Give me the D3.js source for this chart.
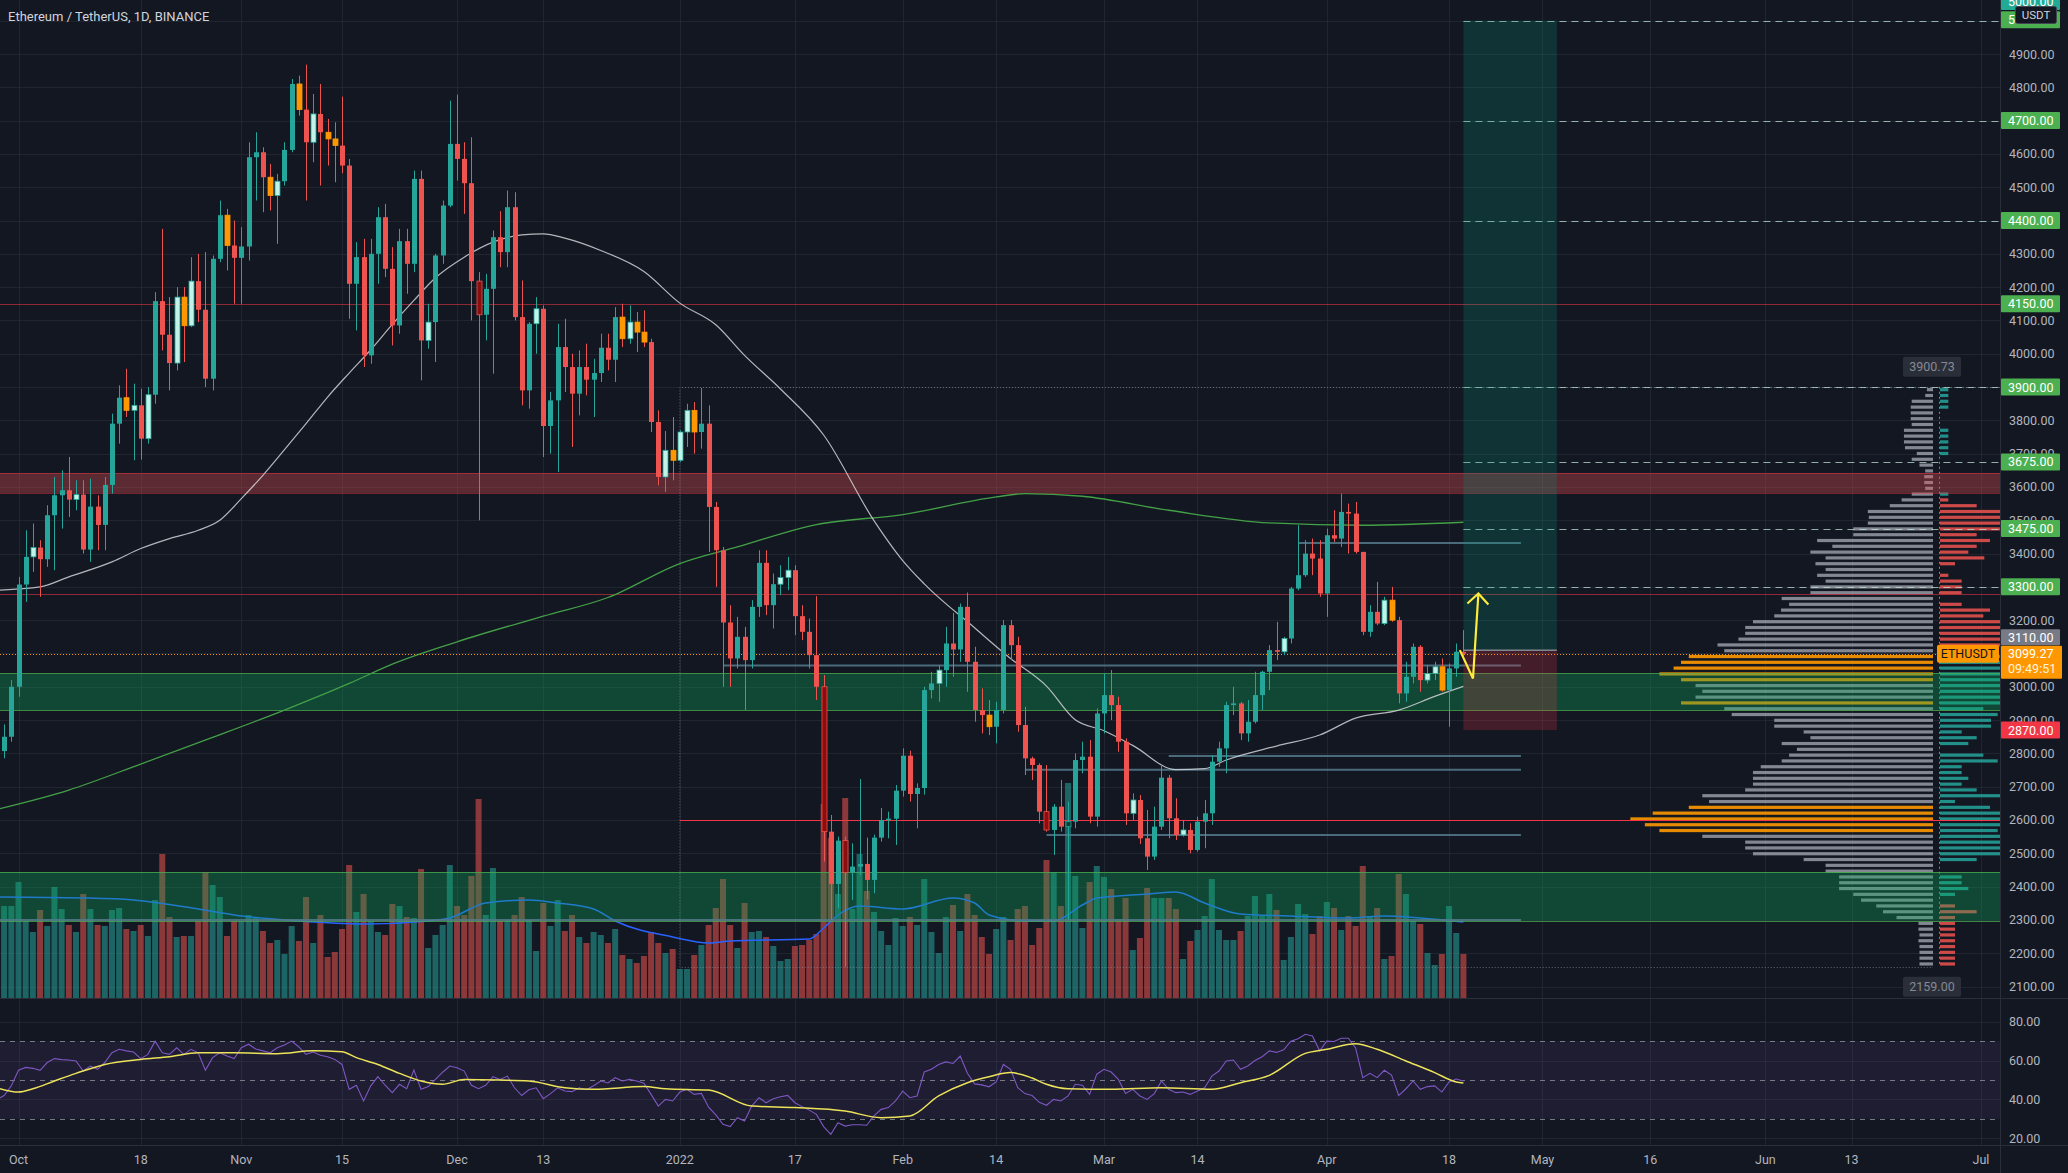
<!DOCTYPE html>
<html><head><meta charset="utf-8">
<script src="https://cdn.jsdelivr.net/npm/d3@7"></script>
<style>
html,body{margin:0;padding:0;background:#131722;overflow:hidden}
svg{display:block}
text{font-family:Roboto,"Noto Sans",sans-serif}
</style></head><body>
<svg id="c" width="2068" height="1173"></svg>
<script>
// ---------------- DATA ----------------
const title = "Ethereum / TetherUS, 1D, BINANCE";
const startDate = "2021-09-28"; // daily candles, consecutive days
const open = [2925,2807,2850,
3000,3307,3390,3418,3383,3515,3575,3590,3562,3577,3412,3541,3486,3606,3790,3868,3830,3845,3745,3877,4158,4057,3972,4170,4084,4218,4132,3925,4285,4416,4325,
4288,4322,4590,4605,4530,4475,4518,4612,4810,4733,4635,4720,4665,4645,4625,4565,4210,4290,3995,4300,4410,4255,4085,4338,4270,4525,4040,4095,4295,4445,
4630,4585,4512,4218,4117,4195,4350,4305,4440,4110,3890,4090,4135,3783,3860,4020,3960,3880,3960,3922,3942,4018,3982,4110,4045,4095,4065,4035,3795,3630,3710,
3680,3765,3830,3765,3790,3540,3410,3193,3085,3150,3080,3240,3372,3245,3308,3328,3350,3212,3165,3095,3000,2565,2408,2538,2442,2460,2468,2420,2547,2600,2604,
2688,2793,2678,2696,2990,3010,3050,3130,3112,3240,3075,2930,2915,2880,2930,3185,3125,2885,2785,2765,2625,2570,2640,2580,2595,2780,2790,2610,
2920,2975,2945,2835,2620,2660,2545,2490,2580,2727,2605,2555,2570,2510,2595,2620,2775,2815,2945,2950,2860,2895,2975,3045,3110,3105,3145,3295,3335,3400,3385,
3280,3455,3445,3525,3520,3405,3165,3225,3190,3260,3200,2980,3030,3120,3020,3040,3060,2990,3055,3105];
const high = [3095,2887,3020,
3330,3470,3490,3440,3545,3630,3650,3690,3620,3620,3625,3575,3630,3820,3905,3955,3910,3895,3900,4185,4375,4170,4200,4200,4290,4300,4305,4295,4460,4435,4400,
4380,4635,4665,4620,4570,4540,4635,4825,4835,4868,4780,4810,4705,4695,4772,4585,4335,4345,4345,4440,4450,4320,4375,4375,4550,4550,4150,4300,4460,4760,
4778,4635,4650,4245,4240,4370,4428,4490,4485,4220,4095,4170,4145,3885,4090,4105,4000,4010,4030,3985,4060,4060,4140,4150,4145,4125,4130,4045,3830,3768,3810,
3770,3850,3855,3897,3845,3555,3420,3245,3210,3180,3260,3410,3410,3340,3365,3390,3365,3245,3205,3272,3035,2615,2550,2550,2530,2723,2547,2556,2636,2625,2705,
2815,2808,2710,3000,3045,3065,3180,3222,3250,3283,3120,2995,2960,2955,3200,3200,3150,2940,2790,2770,2765,2648,2720,2655,2800,2835,2840,2935,
3040,3050,2970,2845,2680,2675,2630,2640,2765,2735,2665,2600,2590,2610,2660,2795,2835,2955,3000,2955,2960,3045,3048,3125,3195,3150,3300,3485,3440,3445,3440,
3475,3530,3580,3550,3555,3405,3245,3315,3270,3300,3210,3075,3130,3125,3065,3075,3085,3070,3130,3170];
const low = [2790,2785,2835,
2970,3255,3345,3270,3360,3350,3475,3510,3530,3400,3375,3410,3410,3580,3730,3810,3680,3682,3730,3850,4010,3890,3950,3975,4080,4095,3900,3890,4275,4250,4150,
4150,4280,4460,4425,4430,4330,4505,4605,4715,4460,4575,4505,4565,4515,4542,4105,4070,3960,3970,4210,4230,4025,4060,4180,4245,3920,4015,3975,4270,4440,
4520,4420,4100,3500,4040,3940,4260,4260,4100,3845,3835,4000,3690,3700,3645,3885,3720,3815,3875,3810,3915,3950,3915,4020,4030,4005,4020,3765,3605,3585,3620,
3675,3720,3700,3715,3405,3300,3000,3000,3055,2930,3055,3210,3215,3175,3275,3290,3155,3140,3055,2960,2475,2300,2335,2159,2360,2435,2362,2380,2535,2545,2525,
2670,2655,2575,2676,2965,2955,3000,3030,3075,2985,2895,2860,2855,2830,2920,3080,2865,2735,2720,2590,2565,2495,2565,2300,2575,2740,2590,2580,
2860,2900,2805,2585,2600,2528,2450,2480,2570,2545,2540,2550,2500,2505,2515,2585,2760,2740,2915,2840,2835,2890,2930,2990,3080,3095,3130,3290,3330,3335,3270,
3210,3435,3420,3400,3400,3155,3150,3185,3185,3195,2950,2955,3010,2985,3010,3020,2985,2880,3030,3090];
const close = [2807,2850,3000,
3307,3390,3418,3383,3515,3575,3590,3562,3577,3412,3541,3486,3606,3790,3868,3830,3845,3745,3877,4158,4057,3972,4170,4084,4218,4132,3925,4285,4416,4325,4288,
4322,4590,4605,4530,4475,4518,4612,4810,4733,4635,4720,4665,4645,4625,4565,4210,4290,3995,4300,4410,4255,4085,4338,4270,4525,4040,4095,4295,4445,4630,
4585,4512,4218,4117,4195,4350,4305,4440,4110,3890,4090,4135,3783,3860,4020,3960,3880,3960,3922,3942,4018,3982,4110,4045,4095,4065,4035,3795,3630,3710,3680,
3765,3830,3765,3790,3540,3410,3193,3085,3150,3080,3240,3372,3245,3308,3328,3350,3212,3165,3095,3000,2565,2408,2538,2442,2460,2468,2420,2547,2600,2604,2688,
2793,2678,2696,2990,3010,3050,3130,3112,3240,3075,2930,2915,2880,2930,3185,3125,2885,2785,2765,2625,2570,2640,2580,2595,2780,2790,2610,2920,
2975,2945,2835,2620,2660,2545,2490,2580,2727,2605,2555,2570,2510,2595,2620,2775,2815,2945,2950,2860,2895,2975,3045,3110,3105,3145,3295,3335,3400,3385,3280,
3455,3445,3525,3520,3405,3165,3225,3190,3260,3200,2980,3030,3120,3020,3040,3060,2990,3055,3105,3099.27];
// volume (relative units)
const volume = [90,92,92,
116,77,66,88,72,111,89,73,66,104,89,73,72,88,90,69,67,73,62,98,144,81,61,62,62,77,126,113,101,62,77,
77,83,81,67,55,58,44,72,57,101,55,83,41,46,69,133,86,104,77,66,63,94,92,81,80,129,50,63,73,133,
92,83,122,199,83,130,77,78,83,101,78,47,95,72,98,67,83,61,55,66,63,55,69,43,39,35,42,66,55,45,49,
29,29,43,53,73,90,119,73,50,95,66,67,61,52,37,39,52,53,58,64,194,160,104,200,89,144,107,86,67,53,80,
72,81,73,119,66,45,81,93,67,104,83,61,44,69,81,58,89,92,53,70,138,126,92,215,122,70,116,132,
121,109,79,100,48,60,110,100,100,100,89,39,57,68,82,119,68,58,58,67,82,102,82,104,88,38,61,94,84,64,82,
96,90,68,82,72,132,82,90,39,42,124,104,77,74,45,33,44,92,65,44];
const rsi = [40,42,47,
55,56.5,56,55,59,61,60.5,60.3,59.8,54.6,57.2,55.5,59,64,65.8,65,64.4,61,63.2,70,64,63.2,66.6,63.2,65.8,64,55,61.5,64,62.3,61,
66.6,68.4,66,65,64,66.6,68,70,67,63.2,64.4,62.7,62,60.6,58,45.2,47.3,39.2,47,51.7,47.3,43.5,47.8,45.5,55.1,45.2,46.6,50.3,54,57.2,
56.3,54.6,47.3,45.5,47.3,51.7,50.3,52,46,42,45,46,40.4,43,46,44.3,44,46,45,47,49.5,48.5,51.2,49.5,50.3,49.5,48.3,42.6,36.6,40,39.2,
43.8,45.2,42.6,43.1,36,32,27.2,26,30.6,28.9,36.6,40.9,38.3,40.4,41.4,42.1,38.3,36.3,34.5,32.3,26,22,28,26.3,27,27,26.7,31.5,34.9,35.8,39.2,
44.3,40.9,41.8,54.1,55.5,58,59.3,58.5,62.3,53.5,48,47.5,46.5,49,58,55.5,46,43,42,38.5,37,40,39.2,41.8,47.8,47.3,42.6,53,
55.5,54.1,50.3,43.1,45.2,41.8,40,43,49.5,45.2,43.5,43.8,42.6,44.3,46,52,54.6,59.8,60.3,55.5,57.2,60,62,65,64.2,65.5,70,71.2,73.5,72.6,65,
70,69.8,71.5,71.5,66.5,51.2,53.4,51.2,55,52.5,42,45.5,49.5,45.2,46.6,47,43.8,49,50.5,49.5];
const lowVolumeDays = ["2021-10-03","2021-10-09","2021-10-16","2021-10-17","2021-10-19","2021-10-23","2021-10-24","2021-10-25","2021-10-30","2021-11-05","2021-11-06","2021-11-09","2021-11-11","2021-11-13","2021-11-14","2021-11-27","2021-12-12","2021-12-24","2021-12-25","2021-12-26","2021-12-27","2021-12-30","2021-12-31","2022-01-01","2022-01-02","2022-01-03","2022-01-15","2022-01-16","2022-02-06","2022-02-13","2022-03-05","2022-03-12","2022-03-26","2022-04-09","2022-04-10","2022-04-15","2022-04-16","2022-04-17"];
const climaxDays = ["2021-12-04","2022-01-21","2022-01-24","2022-02-21","2022-02-24"];
// moving averages (date, value)
const ma50 = [["2021-09-28",3290],["2021-10-04",3300],["2021-10-08",3330],["2021-10-14",3375],["2021-10-18",3415],["2021-10-22",3445],["2021-10-26",3470],["2021-10-29",3500],["2021-11-01",3565],["2021-11-04",3635],["2021-11-07",3712],["2021-11-10",3790],["2021-11-13",3870],["2021-11-16",3942],["2021-11-19",4012],["2021-11-22",4088],["2021-11-25",4160],["2021-11-28",4228],["2021-12-02",4290],["2021-12-06",4335],["2021-12-10",4357],["2021-12-13",4360],["2021-12-16",4347],["2021-12-21",4310],["2021-12-27",4247],["2022-01-01",4152],["2022-01-06",4087],["2022-01-10",3995],["2022-01-15",3894],["2022-01-21",3756],["2022-01-28",3499],["2022-02-01",3379],["2022-02-04",3309],["2022-02-11",3177],["2022-02-16",3085],["2022-02-21",3002],["2022-02-25",2901],["2022-03-01",2868],["2022-03-05",2824],["2022-03-11",2751],["2022-03-15",2754],["2022-03-18",2780],["2022-03-25",2822],["2022-03-31",2855],["2022-04-05",2906],["2022-04-11",2930],["2022-04-16",2971],["2022-04-20",3001]];
const ma200 = [["2021-09-28",2632],["2021-10-08",2690],["2021-10-18",2768],["2021-10-28",2848],["2021-11-07",2930],["2021-11-16",3010],["2021-11-22",3068],["2021-12-01",3135],["2021-12-13",3212],["2021-12-22",3268],["2022-01-01",3370],["2022-01-09",3420],["2022-01-20",3487],["2022-02-01",3517],["2022-02-14",3570],["2022-02-18",3580],["2022-02-26",3572],["2022-03-10",3530],["2022-03-24",3492],["2022-04-06",3485],["2022-04-20",3494]];
const volMA = [["2021-09-28",101],["2021-10-10",100],["2021-10-17",98],["2021-10-26",89],["2021-10-31",83],["2021-11-09",77],["2021-11-18",74],["2021-11-27",77],["2021-11-30",80],["2021-12-05",95],["2021-12-11",98],["2021-12-15",95],["2021-12-20",89],["2021-12-23",77],["2021-12-31",61],["2022-01-05",55],["2022-01-08",57],["2022-01-19",59],["2022-01-21",70],["2022-01-23",83],["2022-01-26",92],["2022-02-01",89],["2022-02-08",100],["2022-02-11",95],["2022-02-13",83],["2022-02-18",77],["2022-02-22",77],["2022-02-26",93],["2022-02-28",100],["2022-03-07",104],["2022-03-11",106],["2022-03-15",95],["2022-03-20",84],["2022-03-27",82],["2022-04-04",80],["2022-04-09",82],["2022-04-14",80],["2022-04-20",76]];
const rsiMA = [["2021-09-28",46],["2021-10-01",43.8],["2021-10-03",45.5],["2021-10-06",49.5],["2021-10-09",53.4],["2021-10-13",58],["2021-10-18",60.6],["2021-10-22",62],["2021-10-26",64],["2021-10-31",64],["2021-11-06",63.5],["2021-11-11",65],["2021-11-15",64.6],["2021-11-17",61.5],["2021-11-20",58],["2021-11-23",53.4],["2021-11-26",49.5],["2021-11-29",47.8],["2021-12-02",50.3],["2021-12-07",50],["2021-12-11",49.5],["2021-12-16",46],["2021-12-20",45.2],["2021-12-27",46.6],["2021-12-30",45.5],["2022-01-05",44.8],["2022-01-11",36.6],["2022-01-17",35.8],["2022-01-24",34],["2022-01-29",30.6],["2022-02-02",31.5],["2022-02-06",41.8],["2022-02-10",48.6],["2022-02-13",51.7],["2022-02-16",53.8],["2022-02-19",51],["2022-02-21",47.8],["2022-02-24",45.5],["2022-03-02",45.2],["2022-03-09",46],["2022-03-16",45.2],["2022-03-20",48.6],["2022-03-24",52.4],["2022-03-29",63.7],["2022-04-01",65.8],["2022-04-05",68.7],["2022-04-08",65.8],["2022-04-12",59.8],["2022-04-16",53.8],["2022-04-19",49],["2022-04-20",48.5]];
// horizontal zones and levels
const zones = [{lo:3582,hi:3642,kind:"res"},{lo:2930,hi:3040,kind:"sup"},{lo:2298,hi:2444,kind:"sup"}];
const redLines = [{p:4150,from:"2021-09-20"},{p:3280,from:"2021-09-20"}];
const strongRedLine = {p:2600,from:"2022-01-01"};
const levelSegments = [[3432,"2022-03-28","2022-04-28"],[3064,"2022-01-07","2022-04-28"],[2792,"2022-03-10","2022-04-28"],[2751,"2022-02-18","2022-04-28"],[2555,"2022-02-21","2022-04-28"],[2300,"2021-09-20","2022-04-28"]];
const targets = [5000,4700,4400,3900,3675,3475,3300];
const targetLabels = [4700,4400,4150,3900,3675,3475,3300];
const position = {from:"2022-04-20",to:"2022-05-03",entry:3110,target:5000,stop:2870};
const arrow = [["2022-04-19T12:00",3110],["2022-04-21T08:00",3025],["2022-04-22T02:00",3280]];
const lastPrice = 3099.27, countdown = "09:49:51", symbol = "ETHUSDT";
// fixed range volume profile (Jan 1 -> now), 100 rows from low to high
const vpRange = {from:"2022-01-01", lo:2159.00, hi:3900.73};
const vpRows = [40,40,40,40,43,40,43,43,108,148,
168,213,236,278,278,278,318,318,383,533,
556,556,683,810,853,896,830,723,663,683,
556,533,533,533,510,448,426,403,448,363,
383,470,470,596,618,746,703,683,703,746,
810,768,746,723,618,638,576,556,556,533,
470,450,426,448,363,363,318,343,318,348,
318,363,298,343,236,236,193,190,193,128,
93,63,23,26,26,23,40,63,48,83,
86,86,86,63,66,66,66,63,23,18];
const vpDelta = [-45,-45,-45,-45,-45,-45,-45,-45,-45,-110,
-45,0,45,85,65,65,0,0,110,180,
180,180,180,173,180,180,180,150,45,180,
110,65,85,65,65,173,130,0,85,110,
65,153,153,173,130,180,180,180,180,180,
180,180,180,180,120,-180,-180,-180,-180,-180,
-130,-150,-65,0,-65,-65,-65,-25,0,-45,
-133,-85,-110,-150,-110,-180,-180,-180,-180,-110,
-25,25,0,0,0,0,0,0,25,25,
25,25,25,0,0,0,25,25,25,25];
const priceTicks = d3.range(2100, 4901, 100);
const rsiTicks = [80,60,40,20];
const rsiLevels = [70,50,30];
const timeTicks = [["2021-10-01","Oct"],["2021-10-18","18"],["2021-11-01","Nov"],["2021-11-15","15"],["2021-12-01","Dec"],["2021-12-13","13"],["2022-01-01","2022"],["2022-01-17","17"],["2022-02-01","Feb"],["2022-02-14","14"],["2022-03-01","Mar"],["2022-03-14","14"],["2022-04-01","Apr"],["2022-04-18","18"],["2022-05-01","May"],["2022-05-16","16"],["2022-06-01","Jun"],["2022-06-13","13"],["2022-07-01","Jul"]];

// ---------------- LAYOUT ----------------
const PR = 2000, MB = 998, RT = 999, RB = 1145;
const BG = "#131722", GRID = "rgba(42,46,57,0.6)";
const UP = "#26a69a", DN = "#ef5350";
const parse = s => s.length > 10 ? d3.utcParse("%Y-%m-%dT%H:%M")(s) : d3.utcParse("%Y-%m-%d")(s);
const x = d3.scaleUtc().domain([parse("2021-10-01"), parse("2022-07-01")]).range([18.5, 1981]);
const y = d3.scaleLinear().domain([2100, 4900]).range([986.5, 54]);
const yR = d3.scaleLinear().domain([20, 80]).range([1138.3, 1021.7]);
const yV = d3.scaleLinear().domain([0, 250]).range([MB, MB - 250]);
const vpW = d3.scaleLinear().domain([0, 900]).range([0, 304]);
const start = parse(startDate);
const dates = close.map((_, i) => d3.utcDay.offset(start, i));
const lowSet = new Set(lowVolumeDays), climSet = new Set(climaxDays);
const fmtDay = d3.utcFormat("%Y-%m-%d");

const svg = d3.select("#c");
const defs = svg.append("defs");
defs.append("clipPath").attr("id", "cm").append("rect").attr("x", 0).attr("y", 0).attr("width", PR).attr("height", MB);
defs.append("clipPath").attr("id", "cr").append("rect").attr("x", 0).attr("y", RT).attr("width", PR).attr("height", RB - RT);

svg.append("rect").attr("width", 2068).attr("height", 1173).attr("fill", BG);

// grid
const grid = svg.append("g").attr("stroke", GRID).attr("stroke-width", 1);
timeTicks.forEach(([d]) => {
  const xx = Math.round(x(parse(d))) + 0.5;
  grid.append("line").attr("x1", xx).attr("x2", xx).attr("y1", 0).attr("y2", RB);
});
d3.range(2100, 5001, 100).forEach(p => {
  const yy = Math.round(y(p)) + 0.5;
  grid.append("line").attr("x1", 0).attr("x2", PR).attr("y1", yy).attr("y2", yy);
});
rsiTicks.forEach(v => {
  const yy = Math.round(yR(v)) + 0.5;
  grid.append("line").attr("x1", 0).attr("x2", PR).attr("y1", yy).attr("y2", yy);
});

const main = svg.append("g").attr("clip-path", "url(#cm)");

// volume bars
main.append("g").selectAll("rect").data(volume).join("rect")
  .attr("x", (d, i) => x(dates[i]) - 3)
  .attr("width", 6)
  .attr("y", d => yV(d))
  .attr("height", d => MB - yV(d))
  .attr("fill", (d, i) => close[i] >= open[i] ? "rgba(38,166,154,0.55)" : "rgba(239,83,80,0.55)");

const lineT = d3.line().x(d => x(parse(d[0]))).curve(d3.curveMonotoneX);
main.append("path").datum(volMA).attr("d", lineT.y(d => yV(d[1]))).attr("fill", "none")
  .attr("stroke", "#2962ff").attr("stroke-width", 1.5);

// volume profile
const rowH = (vpRange.hi - vpRange.lo) / vpRows.length;
const barH = 3.2, vpRight = 1933;
const vpG = main.append("g");
vpRows.forEach((v, i) => {
  const yc = y(vpRange.lo + (i + 0.5) * rowH);
  const w = vpW(v);
  vpG.append("rect").attr("x", vpRight - w).attr("y", yc - barH / 2).attr("width", w).attr("height", barH)
    .attr("fill", v > 710 ? "rgba(255,152,0,0.9)" : "rgba(170,173,183,0.75)");
});
vpDelta.forEach((v, i) => {
  if (!v) return;
  const yc = y(vpRange.lo + (i + 0.5) * rowH);
  vpG.append("rect").attr("x", 1940).attr("y", yc - barH / 2).attr("width", Math.abs(v) / 3).attr("height", barH)
    .attr("fill", v > 0 ? "rgba(38,166,154,0.85)" : "rgba(239,83,80,0.85)");
});
main.append("line").attr("x1", 1939.5).attr("x2", 1939.5).attr("y1", y(vpRange.hi)).attr("y2", y(vpRange.lo))
  .attr("stroke", "rgba(220,220,230,0.55)").attr("stroke-dasharray", "2,3");

// zones
zones.forEach(z => {
  const fill = z.kind === "res" ? "rgba(225,77,83,0.35)" : "rgba(13,174,94,0.33)";
  const edge = z.kind === "res" ? "rgba(242,54,69,0.45)" : "rgba(76,175,80,0.75)";
  main.append("rect").attr("x", 0).attr("width", PR).attr("y", y(z.hi)).attr("height", y(z.lo) - y(z.hi)).attr("fill", fill);
  [z.hi, z.lo].forEach(p => main.append("line").attr("x1", 0).attr("x2", PR)
    .attr("y1", Math.round(y(p)) + 0.5).attr("y2", Math.round(y(p)) + 0.5).attr("stroke", edge));
});

// level lines
redLines.forEach(l => main.append("line").attr("x1", x(parse(l.from))).attr("x2", PR)
  .attr("y1", Math.round(y(l.p)) + 0.5).attr("y2", Math.round(y(l.p)) + 0.5)
  .attr("stroke", "rgba(242,54,69,0.55)").attr("stroke-width", 1));
main.append("line").attr("x1", x(parse(strongRedLine.from))).attr("x2", PR)
  .attr("y1", Math.round(y(strongRedLine.p)) + 0.5).attr("y2", Math.round(y(strongRedLine.p)) + 0.5)
  .attr("stroke", "#f23645").attr("stroke-width", 1.2);
levelSegments.forEach(([p, a, b]) => main.append("line").attr("x1", x(parse(a))).attr("x2", x(parse(b)))
  .attr("y1", y(p)).attr("y2", y(p)).attr("stroke", "rgba(84,122,140,0.85)").attr("stroke-width", 2));
// volume profile range box (dotted)
const vpx0 = x(parse(vpRange.from));
main.append("path").attr("d", `M${PR},${Math.round(y(vpRange.hi)) + 0.5}H${vpx0}V${Math.round(y(vpRange.lo)) + 0.5}H${vpRight}`)
  .attr("fill", "none").attr("stroke", "rgba(150,153,163,0.6)").attr("stroke-dasharray", "1,2");
// target dashed lines
targets.forEach(p => main.append("line").attr("x1", x(parse(position.from))).attr("x2", PR)
  .attr("y1", Math.round(y(p)) + 0.5).attr("y2", Math.round(y(p)) + 0.5)
  .attr("stroke", "rgba(190,225,215,0.75)").attr("stroke-dasharray", "7,5"));

// moving averages
main.append("path").datum(ma200).attr("d", lineT.y(d => y(d[1]))).attr("fill", "none").attr("stroke", "#43a047").attr("stroke-width", 1.3);
main.append("path").datum(ma50).attr("d", lineT.y(d => y(d[1]))).attr("fill", "none").attr("stroke", "rgba(210,210,215,0.85)").attr("stroke-width", 1.2);

// position tool
const px0 = x(parse(position.from)), px1 = x(parse(position.to));
main.append("rect").attr("x", px0).attr("width", px1 - px0).attr("y", y(position.target)).attr("height", y(position.entry) - y(position.target))
  .attr("fill", "rgba(8,153,129,0.22)");
main.append("rect").attr("x", px0).attr("width", px1 - px0).attr("y", y(position.entry)).attr("height", y(position.stop) - y(position.entry))
  .attr("fill", "rgba(242,54,69,0.22)");
main.append("line").attr("x1", px0).attr("x2", px1).attr("y1", y(position.entry)).attr("y2", y(position.entry))
  .attr("stroke", "rgba(140,143,153,0.9)").attr("stroke-width", 1.5);

// price line
main.append("line").attr("x1", 0).attr("x2", PR).attr("y1", Math.round(y(lastPrice)) + 0.5).attr("y2", Math.round(y(lastPrice)) + 0.5)
  .attr("stroke", "#ff9800").attr("stroke-dasharray", "1,2");

// candles
const cg = main.append("g");
close.forEach((c, i) => {
  const o = open[i], up = c >= o, key = fmtDay(dates[i]);
  let fill = up ? UP : DN, stroke = "none", wick = up ? UP : DN;
  if (lowSet.has(key)) { fill = up ? "#c2f3e8" : "#ff9800"; stroke = up ? UP : "#ff9800"; }
  if (climSet.has(key)) { fill = up ? "#0d3b36" : "#8b0d0d"; stroke = up ? UP : DN; }
  const xc = Math.round(x(dates[i]));
  cg.append("line").attr("x1", xc + 0.5).attr("x2", xc + 0.5).attr("y1", y(high[i])).attr("y2", y(low[i])).attr("stroke", wick);
  const top = y(Math.max(o, c)), bot = y(Math.min(o, c));
  cg.append("rect").attr("x", xc - 2).attr("width", 5).attr("y", top).attr("height", Math.max(1, bot - top))
    .attr("fill", fill).attr("stroke", stroke).attr("stroke-width", stroke === "none" ? 0 : 0.8);
});

// arrow
const ap = arrow.map(d => [x(parse(d[0])), y(d[1])]);
main.append("path").attr("d", d3.line()(ap)).attr("fill", "none").attr("stroke", "#ffeb3b").attr("stroke-width", 2.2).attr("stroke-linejoin", "miter");
const tip = ap[2];
main.append("path").attr("d", `M${tip[0] - 11},${tip[1] + 10}L${tip[0]},${tip[1]}L${tip[0] + 10},${tip[1] + 11}`)
  .attr("fill", "none").attr("stroke", "#ffeb3b").attr("stroke-width", 2.2);

// ---------------- RSI pane ----------------
const rp = svg.append("g").attr("clip-path", "url(#cr)");
rp.append("rect").attr("x", 0).attr("width", PR).attr("y", yR(70)).attr("height", yR(30) - yR(70)).attr("fill", "rgba(126,87,194,0.1)");
rsiLevels.forEach(v => rp.append("line").attr("x1", 0).attr("x2", PR).attr("y1", Math.round(yR(v)) + 0.5).attr("y2", Math.round(yR(v)) + 0.5)
  .attr("stroke", "rgba(150,153,163,0.75)").attr("stroke-dasharray", "5,5"));
rp.append("path").datum(rsi).attr("d", d3.line().x((d, i) => x(dates[i])).y(d => yR(d))).attr("fill", "none")
  .attr("stroke", "#7e57c2").attr("stroke-width", 1.1);
rp.append("path").datum(rsiMA).attr("d", lineT.y(d => yR(d[1]))).attr("fill", "none").attr("stroke", "#ece35a").attr("stroke-width", 1.5);

// separators
const sep = svg.append("g").attr("stroke", "#2a2e39").attr("stroke-width", 1);
sep.append("line").attr("x1", 0).attr("x2", 2068).attr("y1", 998.5).attr("y2", 998.5);
sep.append("line").attr("x1", 0).attr("x2", 2068).attr("y1", 1145.5).attr("y2", 1145.5);
sep.append("line").attr("x1", 2000.5).attr("x2", 2000.5).attr("y1", 0).attr("y2", 1173);

// axis tick labels
const ax = svg.append("g").attr("font-size", 12.5).attr("fill", "#b2b5be");
priceTicks.forEach(p => ax.append("text").attr("x", 2009).attr("y", y(p) + 4.5).text(d3.format(".2f")(p)));
rsiTicks.forEach(v => ax.append("text").attr("x", 2009).attr("y", yR(v) + 4.5).text(d3.format(".2f")(v)));
timeTicks.forEach(([d, l]) => ax.append("text").attr("x", x(parse(d))).attr("y", 1164).attr("text-anchor", "middle").text(l));

// VP range labels
function boxLabel(cx, cy, txt) {
  svg.append("rect").attr("x", cx - 29).attr("y", cy - 10).attr("width", 58).attr("height", 20).attr("rx", 2).attr("fill", "#2a2e39");
  svg.append("text").attr("x", cx).attr("y", cy + 4.5).attr("text-anchor", "middle").attr("font-size", 12.5).attr("fill", "#868993").text(txt);
}
boxLabel(1932, y(vpRange.hi) - 20, d3.format(".2f")(vpRange.hi));
boxLabel(1932, y(vpRange.lo) + 20, d3.format(".2f")(vpRange.lo));

// coloured price labels
function axLabel(cy, txt, bg, fg, h) {
  h = h || 17;
  svg.append("rect").attr("x", 2001).attr("y", cy - h / 2).attr("width", 59).attr("height", h).attr("rx", 1).attr("fill", bg);
  svg.append("text").attr("x", 2008).attr("y", cy + 4.5).attr("font-size", 12.5).attr("fill", fg).text(txt);
}
axLabel(1.5, "5000.00", "#22ab94", "#ffffff");
axLabel(y(5000) - 1, "5000.00", "#4caf50", "#ffffff");
targetLabels.forEach(p => axLabel(y(p), d3.format(".2f")(p), "#4caf50", "#ffffff"));
axLabel(y(position.entry) - 13, d3.format(".2f")(position.entry), "#787b86", "#ffffff", 16);
// last price label (two lines)
const lp = y(lastPrice);
svg.append("rect").attr("x", 2001).attr("y", lp - 8).attr("width", 61).attr("height", 33).attr("rx", 1).attr("fill", "#ff9800");
svg.append("text").attr("x", 2008).attr("y", lp + 4.5).attr("font-size", 12.5).attr("fill", "#ffffff").text(d3.format(".2f")(lastPrice));
svg.append("text").attr("x", 2008).attr("y", lp + 19).attr("font-size", 12.5).attr("fill", "#fff3e0").text(countdown);
axLabel(y(position.stop), d3.format(".2f")(position.stop), "#f23645", "#ffffff");
// symbol label
svg.append("rect").attr("x", 1937).attr("y", lp - 9).attr("width", 62).attr("height", 18).attr("rx", 2).attr("fill", "#ff9800");
svg.append("text").attr("x", 1968).attr("y", lp + 4.5).attr("text-anchor", "middle").attr("font-size", 12.5).attr("fill", "#131722").text(symbol);
// currency box
svg.append("rect").attr("x", 2015.5).attr("y", 6.5).attr("width", 41).attr("height", 17).attr("rx", 2).attr("fill", "#131722").attr("stroke", "#434651");
svg.append("text").attr("x", 2036).attr("y", 19).attr("text-anchor", "middle").attr("font-size", 11.5).attr("fill", "#d1d4dc").text("USDT");

// title
svg.append("text").attr("x", 8).attr("y", 20.5).attr("font-size", 13).attr("fill", "#d1d4dc").text(title);
</script></body></html>
